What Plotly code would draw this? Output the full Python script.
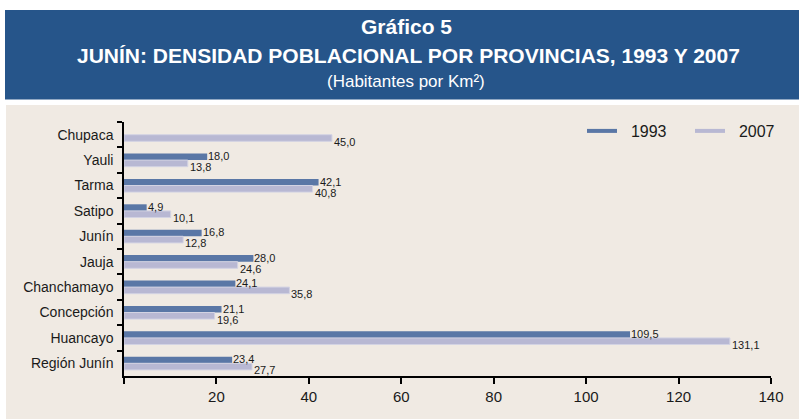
import plotly.graph_objects as go

# ---- data ----
provincias = ["Chupaca", "Yauli", "Tarma", "Satipo", "Junín", "Jauja",
              "Chanchamayo", "Concepción", "Huancayo", "Región Junín"]
dens_1993 = [None, 18.0, 42.1, 4.9, 16.8, 28.0, 24.1, 21.1, 109.5, 23.4]
dens_2007 = [45.0, 13.8, 40.8, 10.1, 12.8, 24.6, 35.8, 19.6, 131.1, 27.7]
x_tickvals = [0, 20, 40, 60, 80, 100, 120, 140]
x_ticktext = ["", "20", "40", "60", "80", "100", "120", "140"]
series_names = ["1993", "2007"]

# ---- layout geometry (pixels) ----
W, H = 799, 419
L, R, T, B = 124, 771, 122, 376
PW, PH = R - L, B - T

def pxx(x):
    return (x - L) / PW

def pxy(y):
    return (B - y) / PH

C1993 = "#5A77A6"
C2007 = "#B8B8D3"
BANNER = "#26558A"
PANEL = "#F0EAE3"

fig = go.Figure()
fig.add_trace(go.Bar(y=provincias, x=dens_1993, orientation="h", name=series_names[0],
                     marker=dict(color=C1993, line=dict(width=0)), showlegend=False))
fig.add_trace(go.Bar(y=provincias, x=dens_2007, orientation="h", name=series_names[1],
                     marker=dict(color=C2007, line=dict(color="#D3D3E3", width=1)),
                     showlegend=False))
# legend entries drawn as lines
for nm, col in zip(series_names, [C1993, C2007]):
    fig.add_trace(go.Scatter(x=[None], y=[None], mode="lines", name="  " + nm,
                             line=dict(color=col, width=4)))

lab_font = dict(family="Liberation Sans Narrow, Arial Narrow, Liberation Sans", size=11, color="#1a1a1a")
annotations = []
for cat, v in zip(provincias, dens_1993):
    if v is None:
        continue
    annotations.append(dict(x=v, y=cat, xref="x", yref="y", text=f"{v:.1f}".replace(".", ","),
                            showarrow=False, xanchor="left", yanchor="middle",
                            xshift=0, yshift=4, font=lab_font, borderpad=0))
for cat, v in zip(provincias, dens_2007):
    annotations.append(dict(x=v, y=cat, xref="x", yref="y", text=f"{v:.1f}".replace(".", ","),
                            showarrow=False, xanchor="left", yanchor="middle",
                            xshift=1, yshift=-7, font=lab_font, borderpad=0))

title_font = "Liberation Sans, Arial, sans-serif"
annotations += [
    dict(x=pxx(406), y=pxy(26), xref="paper", yref="paper", text="<b>Gráfico 5</b>",
         showarrow=False, xanchor="center", yanchor="middle",
         font=dict(family=title_font, size=21, color="white")),
    dict(x=pxx(408), y=pxy(55), xref="paper", yref="paper",
         text="<b>JUNÍN: DENSIDAD POBLACIONAL POR PROVINCIAS, 1993 Y 2007</b>",
         showarrow=False, xanchor="center", yanchor="middle",
         font=dict(family=title_font, size=21, color="white")),
    dict(x=pxx(406), y=pxy(81), xref="paper", yref="paper",
         text="(Habitantes por Km²)",
         showarrow=False, xanchor="center", yanchor="middle",
         font=dict(family=title_font, size=17, color="white")),
]

shapes = [
    dict(type="rect", xref="paper", yref="paper", x0=pxx(5), x1=pxx(800), y0=pxy(10), y1=pxy(99.5),
         fillcolor=BANNER, line=dict(width=0), layer="below"),
    dict(type="rect", xref="paper", yref="paper", x0=pxx(6), x1=pxx(800), y0=pxy(105), y1=pxy(419),
         fillcolor=PANEL, line=dict(width=0), layer="below"),
]

fig.update_layout(
    width=W, height=H,
    margin=dict(l=L, r=W - R, t=T, b=H - B, pad=0, autoexpand=False),
    paper_bgcolor="white", plot_bgcolor="rgba(0,0,0,0)",
    barmode="group", bargap=0.48, bargroupgap=0,
    font=dict(family=title_font, color="#1a1a1a"),
    showlegend=True,
    legend=dict(orientation="h", x=pxx(582), y=pxy(131), xanchor="left", yanchor="middle",
                bgcolor="rgba(0,0,0,0)", font=dict(size=16, color="#1a1a1a"),
                entrywidth=63, entrywidthmode="pixels", tracegroupgap=0),
    annotations=annotations, shapes=shapes,
    xaxis=dict(range=[0, 140], tickvals=x_tickvals, ticktext=x_ticktext,
               ticks="outside", ticklen=6, tickwidth=1.5, tickcolor="black",
               showline=True, linecolor="black", linewidth=1.5,
               showgrid=False, zeroline=False, tickfont=dict(size=15, color="#1a1a1a"),
               fixedrange=True),
    yaxis=dict(categoryorder="array", categoryarray=provincias, range=[9.5, -0.5],
               ticks="outside", ticklen=5, tickwidth=1.5, tickcolor="black", tickson="boundaries",
               showline=True, linecolor="black", linewidth=1.5, showgrid=False,
               tickfont=dict(size=14, color="#1a1a1a"), ticklabelstandoff=6, fixedrange=True),
)

fig.write_html("out.html", config={"displayModeBar": False},
               post_script="document.body.style.margin='0';")
